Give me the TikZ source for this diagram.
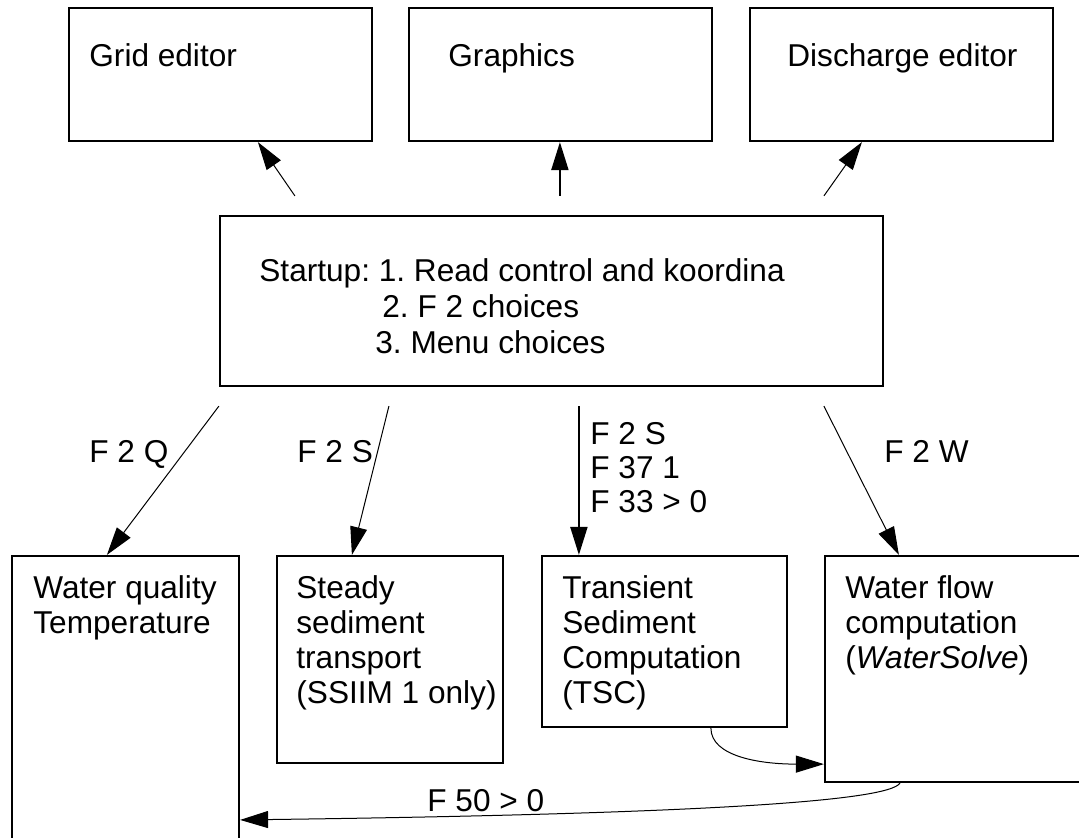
\documentclass[tikz,border=0pt]{standalone}
\usepackage{fontspec}
\setmainfont{Liberation Sans}
\usetikzlibrary{arrows.meta,fit}

\tikzset{
  box/.style={draw,line width=1.1pt,inner sep=0pt},
  txt/.style={anchor=north west,inner sep=0pt,align=left,
    font=\fontsize{15.8}{17.5}\selectfont\frenchspacing},
  link/.style={line width=0.5pt,-{Triangle[length=14pt,width=8.5pt]}},
}

\begin{document}
\begin{tikzpicture}[x=0.5pt,y=-0.5pt]
    \useasboundingbox (0,0) rectangle (1079,837);
    \clip (0,0) rectangle (1079,837);

    % editors on top
    \node[box,fit={(69,8) (372,141)}] (grid) {};
    \node[box,fit={(409,8) (712,141)}] (graphics) {};
    \node[box,fit={(750,8) (1053,141)}] (discharge) {};
    \node[txt] (gridtxt) at (89,43) {Grid editor};
    \node[txt] (graphicstxt) at (448,43) {Graphics};
    \node[txt] (dischargetxt) at (787,43) {Discharge editor};

    % startup box
    \node[box,fit={(220,216) (883,386)}] (startup) {};
    \node[txt,font=\fontsize{15.8}{18}\selectfont\frenchspacing] (startuptxt) at (259,258)
        {Startup: 1. Read control and koordina\\
         \hspace*{61.5pt}2. F 2 choices\\
         \hspace*{58pt}3. Menu choices};

    % computation modules (two of them run off the page)
    \node[box,fit={(12,556) (239,900)}] (quality) {};
    \node[box,fit={(277,556) (503,763)}] (steady) {};
    \node[box,fit={(542,556) (787,727)}] (transient) {};
    \node[box,fit={(825,556) (1100,782)}] (waterflow) {};
    \node[txt] (qualitytxt) at (33,575) {Water quality\\Temperature};
    \node[txt] (steadytxt) at (296,575) {Steady\\sediment\\transport\\(SSIIM 1 only)};
    \node[txt] (transienttxt) at (562,575) {Transient\\Sediment\\Computation\\(TSC)};
    \node[txt] (waterflowtxt) at (845,575) {Water flow\\computation\\(\textit{WaterSolve})};

    % startup -> editors
    \draw[link] ([shift={(76,-19)}]startup.north west) -- ([shift={(190,0)}]grid.south west);
    \draw[link,line width=1pt] ([shift={(341,-19)}]startup.north west) -- ([shift={(152,0)}]graphics.south west);
    \draw[link] ([shift={(605,-19)}]startup.north west) -- ([shift={(113,0)}]discharge.south west);

    % startup -> modules
    \draw[link] ([shift={(0,19)}]startup.south west) -- ([shift={(96,0)}]quality.north west);
    \draw[link] ([shift={(170,19)}]startup.south west) -- ([shift={(76,0)}]steady.north west);
    \draw[link,line width=1pt] ([shift={(360,19)}]startup.south west) -- ([shift={(38,0)}]transient.north west);
    \draw[link] ([shift={(605,19)}]startup.south west) -- ([shift={(75,0)}]waterflow.north west);
    \node[txt] (f2q) at (89,440) {F 2 Q};
    \node[txt] (f2s) at (297,440) {F 2 S};
    \node[txt,font=\fontsize{15.8}{17}\selectfont] (f2tsc) at (590,422) {F 2 S\\F 37 1\\F 33 > 0};
    \node[txt] (f2w) at (884,440) {F 2 W};

    % coupling between modules
    \draw[link] ([shift={(170,0)}]transient.south west)
        .. controls +(0,28) and +(-65,0) .. ([shift={(0,-19)}]waterflow.south west);
    \draw[link] ([shift={(76,0)}]waterflow.south west)
        .. controls +(-11,18) and +(461,-6) .. ([shift={(0,265)}]quality.north east);
    \node[txt] (f50) at (427,789) {F 50 > 0};
\end{tikzpicture}
\end{document}
